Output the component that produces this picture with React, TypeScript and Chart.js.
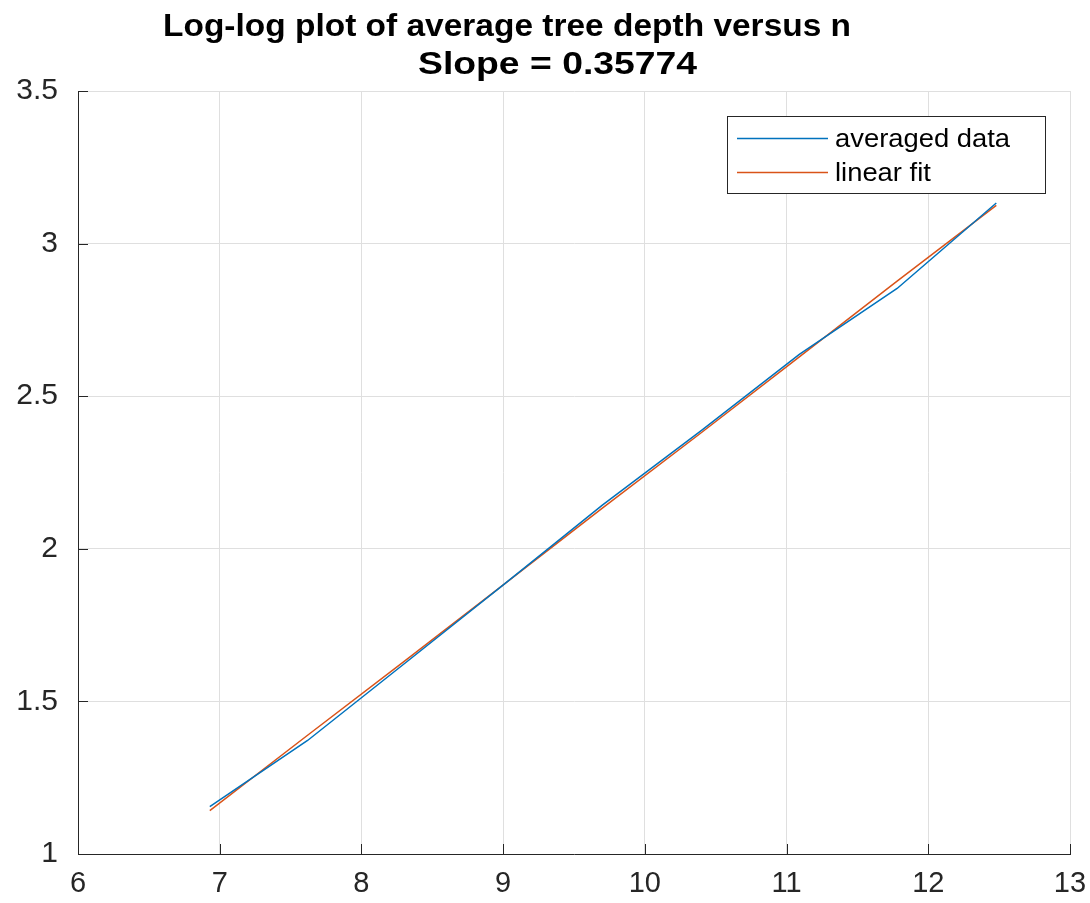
import { useEffect, useRef } from 'react';
import { Chart, registerables } from 'chart.js';

Chart.register(...registerables);

// ln(n) values along the x axis
const logN = [6.93, 7.62, 8.32, 9.01, 9.70, 10.40, 11.09, 11.78, 12.48];
// ln(average tree depth)
const averagedDepth = [1.155, 1.372, 1.630, 1.885, 2.143, 2.388, 2.637, 2.853, 3.133];
// linear fit values at the same x positions
const linearFit = [1.142, 1.389, 1.638, 1.885, 2.133, 2.381, 2.629, 2.877, 3.125];

const seriesLabels = ['averaged data', 'linear fit'];
const seriesColors = ['#0072BD', '#D95319'];
const titleLines = ['Log-log plot of average tree depth versus n', 'Slope = 0.35774'];

const xMin = 6;
const xMax = 13;
const yMin = 1;
const yMax = 3.5;

const FONT = '"Liberation Sans", Arial, Helvetica, sans-serif';
const AXIS_COLOR = '#262626';
const GRID_COLOR = '#dfdfdf';

export default function App() {
  const canvasRef = useRef<HTMLCanvasElement | null>(null);

  useEffect(() => {
    const canvas = canvasRef.current;
    if (!canvas) return;

    const titlePlugin = {
      id: 'matlabTitle',
      afterDraw(chart: any) {
        const ctx = chart.ctx;
        const a = chart.chartArea;
        const w = a.right - a.left;
        ctx.save();
        ctx.fillStyle = '#000000';
        ctx.font = `bold 31px ${FONT}`;
        ctx.textBaseline = 'alphabetic';
        ctx.textAlign = 'center';
        const targetWidths = [688, 279];
        const centers = [a.left + 0.4325 * w, a.left + 0.4834 * w];
        const baselines = [36, 74];
        titleLines.forEach((t, i) => {
          const tw = ctx.measureText(t).width;
          ctx.save();
          ctx.translate(centers[i], baselines[i]);
          ctx.scale(targetWidths[i] / tw, 1);
          ctx.fillText(t, 0, 0);
          ctx.restore();
        });
        ctx.restore();
      },
    };

    const innerTicksPlugin = {
      id: 'innerTicks',
      afterDraw(chart: any) {
        const ctx = chart.ctx;
        const a = chart.chartArea;
        const xs = chart.scales.x;
        const ys = chart.scales.y;
        ctx.save();
        ctx.strokeStyle = AXIS_COLOR;
        ctx.lineWidth = 1;
        ctx.beginPath();
        xs.ticks.forEach((t: any) => {
          const px = Math.round(xs.getPixelForValue(t.value)) + 0.5;
          ctx.moveTo(px, a.bottom);
          ctx.lineTo(px, a.bottom - 10);
        });
        ys.ticks.forEach((t: any) => {
          const py = Math.round(ys.getPixelForValue(t.value)) + 0.5;
          ctx.moveTo(a.left, py);
          ctx.lineTo(a.left + 10, py);
        });
        ctx.stroke();
        ctx.restore();
      },
    };

    const legendPlugin = {
      id: 'matlabLegend',
      afterDraw(chart: any) {
        const ctx = chart.ctx;
        const a = chart.chartArea;
        const right = a.right - 25;
        const top = a.top + 25;
        const boxW = 318;
        const boxH = 77;
        const left = right - boxW;
        ctx.save();
        ctx.fillStyle = '#ffffff';
        ctx.fillRect(left, top, boxW, boxH);
        ctx.strokeStyle = AXIS_COLOR;
        ctx.lineWidth = 1;
        ctx.strokeRect(Math.round(left) + 0.5, Math.round(top) + 0.5, boxW, boxH);
        ctx.font = `26px ${FONT}`;
        ctx.textBaseline = 'middle';
        ctx.textAlign = 'left';
        const refW = ctx.measureText(chart.data.datasets[0].label).width;
        const sx = 175 / refW;
        chart.data.datasets.forEach((ds: any, i: number) => {
          const cy = top + 22.5 + i * 34;
          ctx.strokeStyle = ds.borderColor;
          ctx.lineWidth = 1.5;
          ctx.beginPath();
          ctx.moveTo(left + 10, cy);
          ctx.lineTo(left + 101, cy);
          ctx.stroke();
          ctx.fillStyle = '#000000';
          ctx.save();
          ctx.translate(left + 108, cy + 1);
          ctx.scale(sx, 1);
          ctx.fillText(ds.label, 0, 0);
          ctx.restore();
        });
        ctx.restore();
      },
    };

    const chart = new Chart(canvas, {
      type: 'line',
      data: {
        datasets: [
          {
            label: seriesLabels[0],
            data: logN.map((x, i) => ({ x, y: averagedDepth[i] })),
            borderColor: seriesColors[0],
            backgroundColor: seriesColors[0],
            borderWidth: 1.5,
            pointRadius: 0,
            tension: 0,
          },
          {
            label: seriesLabels[1],
            data: logN.map((x, i) => ({ x, y: linearFit[i] })),
            borderColor: seriesColors[1],
            backgroundColor: seriesColors[1],
            borderWidth: 1.5,
            pointRadius: 0,
            tension: 0,
          },
        ],
      },
      options: {
        responsive: false,
        animation: false,
        events: [],
        layout: { padding: { top: 91, right: 20, bottom: 0, left: 0 } },
        plugins: {
          legend: { display: false },
          title: { display: false },
          tooltip: { enabled: false },
        },
        scales: {
          x: {
            type: 'linear',
            min: xMin,
            max: xMax,
            ticks: {
              stepSize: 1,
              color: AXIS_COLOR,
              font: { family: FONT, size: 29 },
              padding: 13,
              maxRotation: 0,
              callback: (v: any) => `${v}`,
            },
            grid: { color: GRID_COLOR, drawTicks: false, lineWidth: 1 },
            border: { color: AXIS_COLOR, width: 1 },
            afterFit(scale: any) {
              scale.height = 49;
              scale.paddingLeft = 0;
              scale.paddingRight = 0;
            },
          },
          y: {
            type: 'linear',
            min: yMin,
            max: yMax,
            ticks: {
              stepSize: 0.5,
              color: AXIS_COLOR,
              font: { family: FONT, size: 30 },
              padding: 20,
              callback: (v: any) => `${v}`,
            },
            grid: { color: GRID_COLOR, drawTicks: false, lineWidth: 1 },
            border: { color: AXIS_COLOR, width: 1 },
            afterFit(scale: any) {
              scale.width = 78;
              scale.paddingTop = 0;
              scale.paddingBottom = 0;
            },
          },
        },
      },
      plugins: [titlePlugin, innerTicksPlugin, legendPlugin],
    });

    return () => {
      chart.destroy();
    };
  }, []);

  return (
    <div style={{ position: 'fixed', left: 0, top: 0, width: 1090, height: 903, background: '#ffffff' }}>
      <canvas ref={canvasRef} width={1090} height={903} style={{ display: 'block' }} />
    </div>
  );
}
